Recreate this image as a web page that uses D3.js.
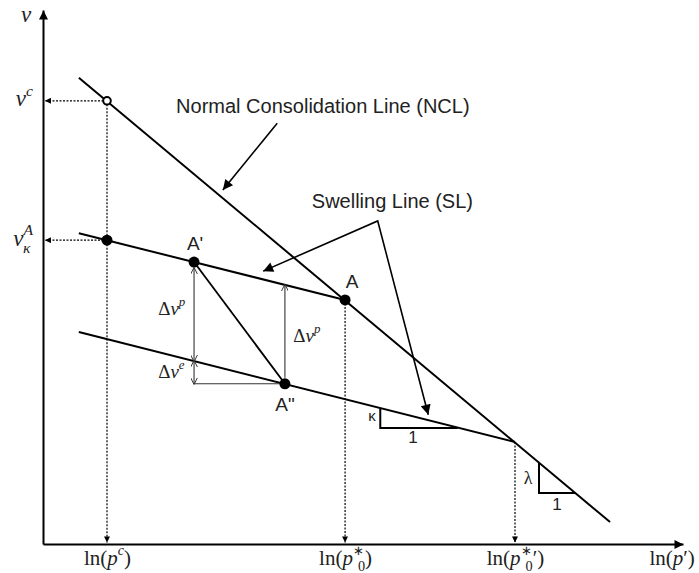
<!DOCTYPE html>
<html>
<head>
<meta charset="utf-8">
<script src="https://cdn.jsdelivr.net/npm/d3@7"></script>
<style>
body { margin: 0; background: #fff; }
svg { display: block; }
.sans { font-family: "Liberation Sans", Arial, sans-serif; fill: #222; }
.math { font-family: "Liberation Serif", "Times New Roman", serif; fill: #222; }
</style>
</head>
<body>
<div class="container"></div>
<script>
const width = 699, height = 573;

// schematic units: x = ln(p'), y = v
const lnP = [1.0, 4.72, 7.375];          // ln(p^c), ln(p0*), ln(p0*')
const vTicks = [8.30, 5.69];             // v^c, v_kappa^A
const ncl = [[0.56, 8.73], [8.86, 0.41]];
const slUpper = [[0.56, 5.82], [4.72, 4.57]];
const slLower = [[0.56, 3.97], [7.375, 1.91]];
const dots = [
	{name: 'A', x: 4.72, y: 4.57, dx: 7, dy: -12},
	{name: "A'", x: 2.36, y: 5.28, dx: 1, dy: -12},
	{name: 'A"', x: 3.78, y: 3.0, dx: 0, dy: 27},
	{name: '', x: 1.0, y: 5.69},
	{name: '', x: 7.375, y: 1.91, r: 0}
];
const openDot = [1.0, 8.30];
const kappaTri = [[5.27, 2.546], [5.27, 2.17], [6.48, 2.17]];
const lambdaTri = [[7.75, 1.52], [7.75, 0.955], [8.32, 0.955]];
const nclPointer = [[3.66, 7.88], [2.81, 6.63]];
const slPointer = [[3.44, 5.11], [5.23, 6.05], [6.02, 2.42]];
// delta v construction
const dvpLeft = [2.36, 5.28, 3.426];
const dveLeft = [2.36, 3.426, 3.0];
const dvpRight = [3.78, 3.0, 4.852];

const sx = d3.scaleLinear().domain([0, 10]).range([43, 683]);
const sy = d3.scaleLinear().domain([0, 10]).range([544, 10]);

const svg = d3.select('.container').append('svg')
	.attr('width', width)
	.attr('height', height)
	.attr('viewBox', [0, 0, width, height]);

const defs = svg.append('defs');
function add_marker(id, w, h, open) {
	const m = defs.append('marker')
		.attr('id', id)
		.attr('viewBox', '0 0 10 10')
		.attr('refX', open ? 9 : 10)
		.attr('refY', 5)
		.attr('markerUnits', 'userSpaceOnUse')
		.attr('markerWidth', w)
		.attr('markerHeight', h)
		.attr('orient', 'auto-start-reverse');
	const p = m.append('path');
	if (open) {
		p.attr('d', 'M0,0 L10,5 L0,10').attr('fill', 'none').attr('stroke', '#333').attr('stroke-width', 1.4);
	} else {
		p.attr('d', 'M0,0 L10,5 L0,10 z').attr('fill', '#000');
	}
}
add_marker('axisArrow', 12, 9);
add_marker('bigArrow', 13, 10);
add_marker('smallArrow', 7, 6);
add_marker('openArrow', 7, 7, true);

function mathText(text, parts, size) {
	let cur = 0;
	parts.forEach(p => {
		const off = p.s === 'sup' ? -0.46 * size : p.s === 'sub' ? 0.3 * size : 0;
		text.append('tspan')
			.attr('dy', off - cur)
			.attr('dx', p.dx || 0)
			.attr('font-size', p.s ? size * (p.k || 0.68) : size)
			.attr('font-style', p.i ? 'italic' : 'normal')
			.text(p.t);
		cur = off;
	});
}

const xLabels = [
	[{t: 'ln('}, {t: 'p', i: 1}, {t: 'c', i: 1, s: 'sup'}, {t: ')'}],
	[{t: 'ln('}, {t: 'p', i: 1}, {t: '∗', s: 'sup', k: 0.6}, {t: '0', s: 'sub', dx: -6}, {t: ')'}],
	[{t: 'ln('}, {t: 'p', i: 1}, {t: '∗', s: 'sup', k: 0.6}, {t: '0', s: 'sub', dx: -6}, {t: '′'}, {t: ')'}]
];
const yLabels = [
	[{t: 'v', i: 1}, {t: 'c', i: 1, s: 'sup'}],
	[{t: 'v', i: 1}, {t: 'A', i: 1, s: 'sup'}, {t: 'κ', i: 1, s: 'sub', dx: -10}]
];

const line = d3.line().x(d => sx(d[0])).y(d => sy(d[1]));

// dotted guides
const guides = svg.append('g')
	.attr('fill', 'none')
	.attr('stroke', '#000')
	.attr('stroke-width', 1.2)
	.attr('stroke-dasharray', '2,1.5');
guides.append('path').attr('d', line([openDot, [0.03, openDot[1]]])).attr('marker-end', 'url(#smallArrow)');
guides.append('path').attr('d', line([openDot, [openDot[0], 0.03]])).attr('marker-end', 'url(#smallArrow)');
guides.append('path').attr('d', line([[dots[3].x, dots[3].y], [0.03, dots[3].y]])).attr('marker-end', 'url(#smallArrow)');
guides.append('path').attr('d', line([[dots[0].x, dots[0].y], [dots[0].x, 0.03]])).attr('marker-end', 'url(#smallArrow)');
guides.append('path').attr('d', line([[dots[4].x, dots[4].y], [dots[4].x, 0.03]])).attr('marker-end', 'url(#smallArrow)');

// axes
const xAxis = d3.axisBottom(sx).tickValues(lnP).tickSize(0).tickPadding(8).tickFormat('');
const gx = svg.append('g').attr('transform', `translate(0,${sy(0)})`).call(xAxis);
gx.select('.domain').attr('stroke-width', 2).attr('marker-end', 'url(#axisArrow)');
gx.selectAll('.tick text')
	.attr('class', 'math')
	.attr('dy', null)
	.attr('y', 21)
	.each(function(d, i) { mathText(d3.select(this), xLabels[i], 21); });

const yAxis = d3.axisLeft(sy).tickValues(vTicks).tickSize(0).tickPadding(10).tickFormat('');
const gy = svg.append('g').attr('transform', `translate(${sx(0)},0)`).call(yAxis);
gy.select('.domain').attr('stroke-width', 2).attr('marker-end', 'url(#axisArrow)');
gy.selectAll('.tick text')
	.attr('class', 'math')
	.attr('dy', null)
	.attr('y', 5)
	.each(function(d, i) { mathText(d3.select(this), yLabels[i], 23); });

svg.append('text').attr('class', 'math').attr('x', 26).attr('y', 22)
	.attr('text-anchor', 'middle').attr('font-size', 23).attr('font-style', 'italic').text('v');
const lp = svg.append('text').attr('class', 'math').attr('x', sx(9.83)).attr('y', 565)
	.attr('text-anchor', 'middle');
mathText(lp, [{t: 'ln('}, {t: 'p', i: 1}, {t: '′'}, {t: ')'}], 21);

// main lines
const lines = svg.append('g').attr('fill', 'none').attr('stroke', '#000').attr('stroke-width', 2);
lines.append('path').attr('d', line(ncl));
lines.append('path').attr('d', line(slUpper));
lines.append('path').attr('d', line(slLower));
lines.append('path').attr('d', line([[dots[1].x, dots[1].y], [dots[2].x, dots[2].y]])).attr('stroke-width', 1.8);
lines.append('path').attr('d', line(kappaTri));
lines.append('path').attr('d', line(lambdaTri));

// delta v construction
const dv = svg.append('g').attr('fill', 'none').attr('stroke', '#333').attr('stroke-width', 1.1);
dv.append('path').attr('d', line([[dveLeft[0], dveLeft[2]], [dots[2].x, dots[2].y]]));
dv.append('line')
	.attr('x1', sx(dvpLeft[0])).attr('y1', sy(dvpLeft[1]) + 6)
	.attr('x2', sx(dvpLeft[0])).attr('y2', sy(dvpLeft[2]))
	.attr('marker-start', 'url(#openArrow)').attr('marker-end', 'url(#openArrow)');
dv.append('line')
	.attr('x1', sx(dveLeft[0])).attr('y1', sy(dveLeft[1]))
	.attr('x2', sx(dveLeft[0])).attr('y2', sy(dveLeft[2]))
	.attr('marker-start', 'url(#openArrow)').attr('marker-end', 'url(#openArrow)');
dv.append('line')
	.attr('x1', sx(dvpRight[0])).attr('y1', sy(dvpRight[1]) - 6)
	.attr('x2', sx(dvpRight[0])).attr('y2', sy(dvpRight[2]))
	.attr('marker-end', 'url(#openArrow)');

// pointers
const ptr = svg.append('g').attr('fill', 'none').attr('stroke', '#000').attr('stroke-width', 1.6);
ptr.append('path').attr('d', line(nclPointer)).attr('marker-end', 'url(#bigArrow)');
ptr.append('path').attr('d', line(slPointer))
	.attr('marker-start', 'url(#bigArrow)').attr('marker-end', 'url(#bigArrow)');

// points
svg.append('g').selectAll('circle')
	.data(dots.filter(d => d.r !== 0))
	.join('circle')
	.attr('cx', d => sx(d.x))
	.attr('cy', d => sy(d.y))
	.attr('r', 5.5)
	.attr('fill', '#000');
svg.append('circle')
	.attr('cx', sx(openDot[0])).attr('cy', sy(openDot[1]))
	.attr('r', 3.8).attr('fill', '#fff').attr('stroke', '#000').attr('stroke-width', 2);

svg.append('g').selectAll('text')
	.data(dots.filter(d => d.name))
	.join('text')
	.attr('class', 'sans')
	.attr('font-size', 19)
	.attr('text-anchor', 'middle')
	.attr('x', d => sx(d.x) + d.dx)
	.attr('y', d => sy(d.y) + d.dy)
	.text(d => d.name);

// annotations
function add_text(x, y, s, size, anchor, cls) {
	return svg.append('text')
		.attr('class', cls || 'sans')
		.attr('x', sx(x)).attr('y', sy(y))
		.attr('font-size', size)
		.attr('text-anchor', anchor || 'start')
		.text(s);
}
add_text(2.08, 8.07, 'Normal Consolidation Line (NCL)', 20);
add_text(4.20, 6.29, 'Swelling Line (SL)', 20);
add_text(5.14, 2.30, 'κ', 15, 'middle');
add_text(5.78, 1.89, '1', 17, 'middle');
add_text(7.58, 1.12, 'λ', 18, 'middle', 'math');
add_text(8.03, 0.64, '1', 17, 'middle');

const dvLabels = [
	[1.80, 4.29, 'p'],
	[1.80, 3.11, 'e'],
	[3.91, 3.78, 'p']
];
dvLabels.forEach(([x, y, s]) => {
	const t = svg.append('text').attr('class', 'math').attr('x', sx(x)).attr('y', sy(y));
	mathText(t, [{t: 'Δ'}, {t: 'v', i: 1}, {t: s, i: 1, s: 'sup'}], 19);
});
</script>
</body>
</html>
